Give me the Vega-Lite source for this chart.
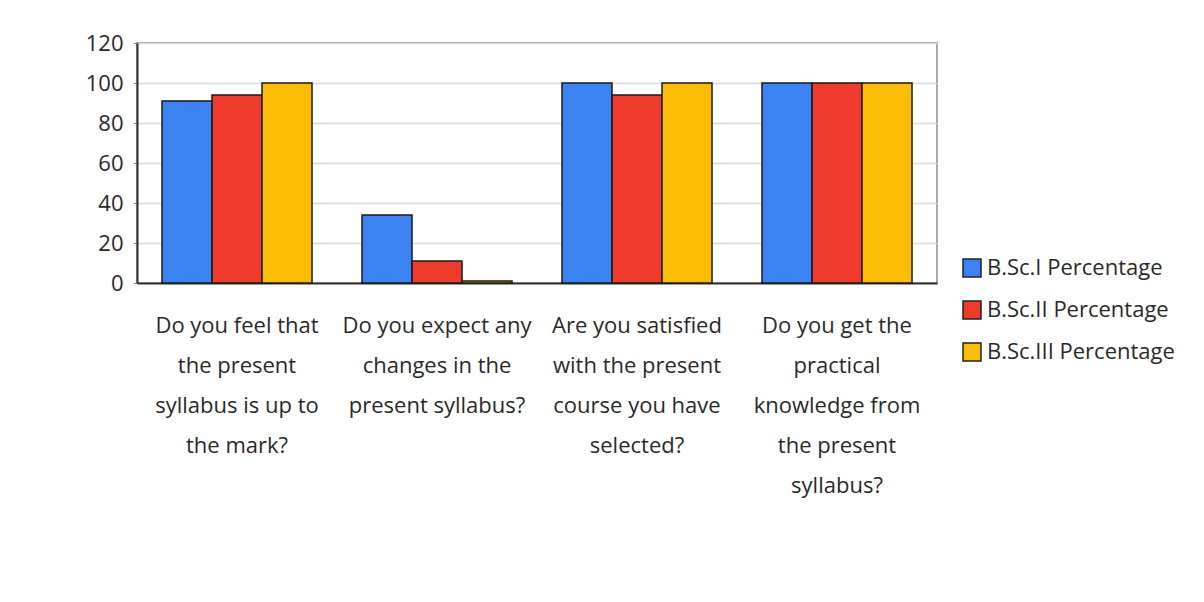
{
  "$schema": "https://vega.github.io/schema/vega-lite/v6.json",
  "width": 800,
  "height": 240,
  "autosize": {"type": "none"},
  "padding": {"left": 137, "top": 43, "right": 267, "bottom": 319},
  "background": "white",
  "config": {
    "font": "Open Sans",
    "view": {"stroke": "#a6a6a6", "strokeWidth": 2}
  },
  "data": {
    "values": [
      {"question": "Do you feel that|the present|syllabus is up to|the mark?", "series": "B.Sc.I Percentage", "value": 91},
      {"question": "Do you feel that|the present|syllabus is up to|the mark?", "series": "B.Sc.II Percentage", "value": 94},
      {"question": "Do you feel that|the present|syllabus is up to|the mark?", "series": "B.Sc.III Percentage", "value": 100},
      {"question": "Do you expect any|changes in the|present syllabus?", "series": "B.Sc.I Percentage", "value": 34},
      {"question": "Do you expect any|changes in the|present syllabus?", "series": "B.Sc.II Percentage", "value": 11},
      {"question": "Do you expect any|changes in the|present syllabus?", "series": "B.Sc.III Percentage", "value": 1},
      {"question": "Are you satisfied|with the present|course you have|selected?", "series": "B.Sc.I Percentage", "value": 100},
      {"question": "Are you satisfied|with the present|course you have|selected?", "series": "B.Sc.II Percentage", "value": 94},
      {"question": "Are you satisfied|with the present|course you have|selected?", "series": "B.Sc.III Percentage", "value": 100},
      {"question": "Do you get the|practical|knowledge from|the present|syllabus?", "series": "B.Sc.I Percentage", "value": 100},
      {"question": "Do you get the|practical|knowledge from|the present|syllabus?", "series": "B.Sc.II Percentage", "value": 100},
      {"question": "Do you get the|practical|knowledge from|the present|syllabus?", "series": "B.Sc.III Percentage", "value": 100}
    ]
  },
  "mark": {"type": "bar", "stroke": "#1a1a1a", "strokeWidth": 1.5},
  "encoding": {
    "x": {
      "field": "question",
      "type": "nominal",
      "sort": null,
      "scale": {"paddingInner": 0.25, "paddingOuter": 0.125},
      "axis": {
        "title": null,
        "labelAngle": 0,
        "labelExpr": "split(datum.label, '|')",
        "labelFont": "Open Sans",
        "labelFontSize": 22,
        "labelLineHeight": 40,
        "labelColor": "#2a2a2a",
        "labelPadding": 32,
        "labelBaseline": "top",
        "labelLimit": 300,
        "ticks": false,
        "domainColor": "#333333",
        "domainWidth": 2
      }
    },
    "xOffset": {"field": "series", "type": "nominal"},
    "y": {
      "field": "value",
      "type": "quantitative",
      "scale": {"domain": [0, 120]},
      "axis": {
        "title": null,
        "values": [0, 20, 40, 60, 80, 100, 120],
        "labelFont": "Open Sans",
        "labelFontSize": 22,
        "labelColor": "#2a2a2a",
        "labelPadding": 10,
        "tickSize": 4,
        "tickColor": "#888888",
        "domainColor": "#333333",
        "domainWidth": 2,
        "gridColor": "#d9d9d9",
        "gridWidth": 1.5
      }
    },
    "color": {
      "field": "series",
      "type": "nominal",
      "scale": {
        "domain": ["B.Sc.I Percentage", "B.Sc.II Percentage", "B.Sc.III Percentage"],
        "range": ["#3b82f2", "#ef3b2c", "#fbbc04"]
      },
      "legend": {
        "title": null,
        "orient": "none",
        "legendX": 824,
        "legendY": 214,
        "symbolType": "square",
        "symbolSize": 324,
        "symbolStrokeColor": "#222222",
        "symbolStrokeWidth": 1.5,
        "labelFont": "Open Sans",
        "labelFontSize": 22,
        "labelColor": "#2a2a2a",
        "rowPadding": 18,
        "labelOffset": 4,
        "labelLimit": 300
      }
    }
  }
}
